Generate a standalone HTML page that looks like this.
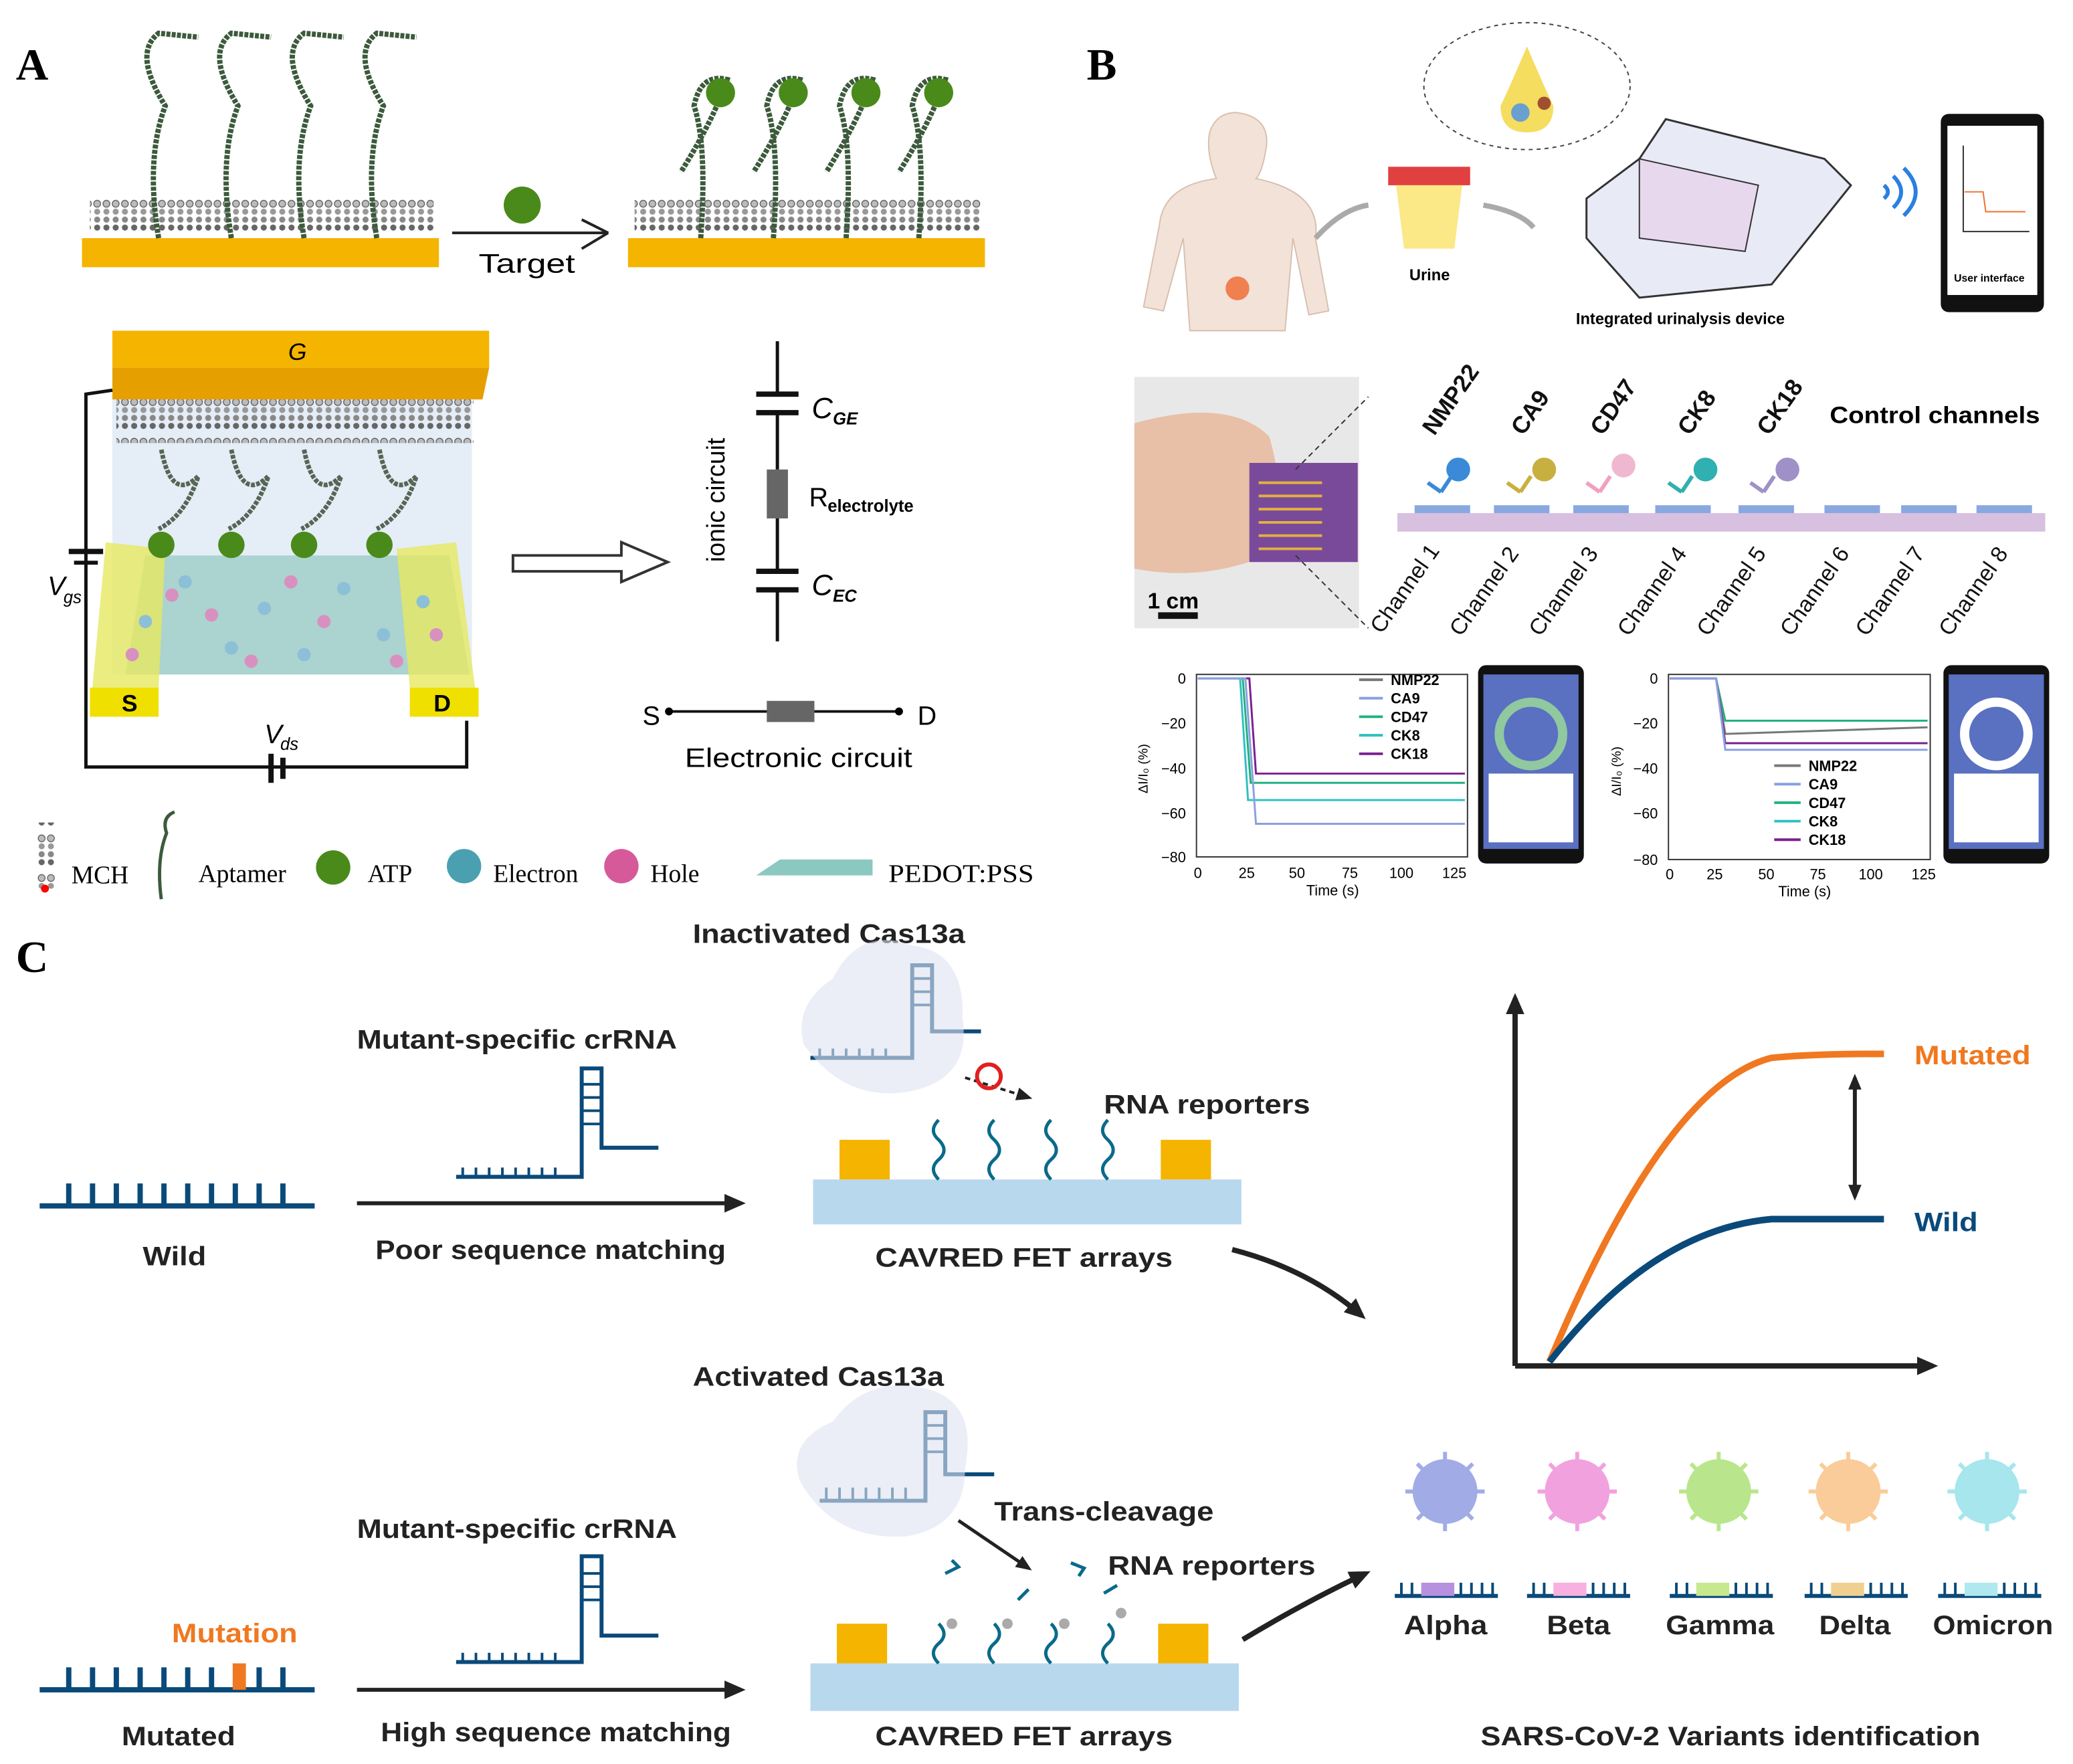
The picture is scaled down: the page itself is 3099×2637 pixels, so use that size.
<!DOCTYPE html>
<html><head><meta charset="utf-8"><style>
html,body{margin:0;padding:0;background:#fff}
svg{display:block}
text{font-family:"Liberation Sans",Arial,sans-serif}
.serif{font-family:"Liberation Serif",serif}
.b{font-weight:bold}
</style></head><body>
<svg width="3099" height="2637" viewBox="0 0 1568 1334" xmlns="http://www.w3.org/2000/svg">
<defs>
<marker id="ah" markerWidth="16" markerHeight="16" refX="12" refY="8" orient="auto" markerUnits="userSpaceOnUse"><path d="M0,1 L16,8 L0,15 z" fill="#222"/></marker>
<marker id="ahs" markerWidth="12" markerHeight="12" refX="9" refY="6" orient="auto" markerUnits="userSpaceOnUse"><path d="M0,1 L12,6 L0,11 z" fill="#222"/></marker>
<marker id="ahr" markerWidth="12" markerHeight="12" refX="3" refY="6" orient="auto" markerUnits="userSpaceOnUse"><path d="M12,1 L0,6 L12,11 z" fill="#222"/></marker>
<pattern id="mch" width="7" height="30" patternUnits="userSpaceOnUse"><circle cx="3.5" cy="4" r="2.6" fill="#bbb" stroke="#555" stroke-width="0.6"/><circle cx="3.5" cy="10" r="2.3" fill="#999"/><circle cx="3.5" cy="16" r="2.3" fill="#888"/><circle cx="3.5" cy="22" r="2.3" fill="#666"/></pattern>
<g id="virus"><g stroke-width="3"><path d="M0 -30 V30 M-30 0 H30 M-21 -21 L21 21 M-21 21 L21 -21"/></g><circle r="24"/></g>
</defs>
<rect width="1568" height="1334" fill="#fff"/>
<!-- Panel A -->
<text x="12" y="60" class="serif b" font-size="34">A</text>
<rect x="68" y="145" width="260" height="36" fill="url(#mch)"/>
<rect x="480" y="145" width="262" height="36" fill="url(#mch)"/>
<rect x="62" y="180" width="270" height="22" fill="#f5b400"/>
<rect x="475" y="180" width="270" height="22" fill="#f5b400"/>
<g stroke="#3c5a3c" stroke-width="4" fill="none" stroke-dasharray="3 1">
<path d="M120 180 Q110 120 125 80 Q100 40 120 25 L150 28"/>
<path d="M175 180 Q165 120 180 80 Q155 40 175 25 L205 28"/>
<path d="M230 180 Q220 120 235 80 Q210 40 230 25 L260 28"/>
<path d="M285 180 Q275 120 290 80 Q265 40 285 25 L315 28"/>
<path d="M530 180 Q535 110 525 80 Q530 55 550 60 Q540 90 515 130"/>
<path d="M585 180 Q590 110 580 80 Q585 55 605 60 Q595 90 570 130"/>
<path d="M640 180 Q645 110 635 80 Q640 55 660 60 Q650 90 625 130"/>
<path d="M695 180 Q700 110 690 80 Q695 55 715 60 Q705 90 680 130"/>
</g>
<g fill="#4a8a1a"><circle cx="545" cy="70" r="11"/><circle cx="600" cy="70" r="11"/><circle cx="655" cy="70" r="11"/><circle cx="710" cy="70" r="11"/><circle cx="395" cy="155" r="14"/></g>
<path d="M342 176 L460 176 L440 166 M460 176 L440 188" stroke="#222" stroke-width="2" fill="none"/>
<text x="362" y="206" font-size="20" textLength="73" lengthAdjust="spacingAndGlyphs">Target</text>
<!-- OECT -->
<rect x="85" y="290" width="272" height="220" fill="#dfe8f5" opacity="0.8"/>
<rect x="88" y="295" width="270" height="40" fill="url(#mch)"/>
<path d="M85 250 L370 250 L370 278 L85 278 z" fill="#f5b400"/>
<path d="M85 278 L370 278 L365 302 L85 302 z" fill="#e5a000"/>
<text x="218" y="272" font-size="18" font-style="italic">G</text>
<path d="M110 420 L340 420 L355 510 L95 510 z" fill="#9cccc4" opacity="0.8"/>
<path d="M80 410 L125 415 L120 520 L68 540 z" fill="#e6e860" opacity="0.8"/>
<path d="M300 415 L345 410 L362 540 L310 520 z" fill="#e6e860" opacity="0.8"/>
<rect x="68" y="520" width="52" height="22" fill="#f0e000"/><text x="92" y="538" font-size="18" class="b">S</text>
<rect x="310" y="520" width="52" height="22" fill="#f0e000"/><text x="328" y="538" font-size="18" class="b">D</text>
<g fill="#8cbfd8"><circle cx="140" cy="440" r="5"/><circle cx="200" cy="460" r="5"/><circle cx="260" cy="445" r="5"/><circle cx="175" cy="490" r="5"/><circle cx="290" cy="480" r="5"/><circle cx="110" cy="470" r="5"/><circle cx="230" cy="495" r="5"/><circle cx="320" cy="455" r="5"/></g>
<g fill="#d890c0"><circle cx="160" cy="465" r="5"/><circle cx="220" cy="440" r="5"/><circle cx="245" cy="470" r="5"/><circle cx="190" cy="500" r="5"/><circle cx="300" cy="500" r="5"/><circle cx="100" cy="495" r="5"/><circle cx="130" cy="450" r="5"/><circle cx="330" cy="480" r="5"/></g>
<g fill="#4a8a1a"><circle cx="122" cy="412" r="10"/><circle cx="175" cy="412" r="10"/><circle cx="230" cy="412" r="10"/><circle cx="287" cy="412" r="10"/></g>
<g stroke="#556655" stroke-width="3.5" fill="none" stroke-dasharray="3 1"><path d="M122 340 Q130 380 150 360 Q140 390 120 400"/><path d="M175 340 Q183 380 203 360 Q193 390 173 400"/><path d="M230 340 Q238 380 258 360 Q248 390 228 400"/><path d="M287 340 Q295 380 315 360 Q305 390 285 400"/></g>
<path d="M85 295 L65 298 L65 580 L353 580 L353 545" stroke="#111" stroke-width="2.5" fill="none"/>
<rect x="52" y="415" width="26" height="4" fill="#111"/><rect x="56" y="424" width="18" height="3" fill="#111"/>
<text x="36" y="450" font-size="20" font-style="italic">V</text><text x="48" y="456" font-size="13" font-style="italic">gs</text>
<rect x="203" y="570" width="4" height="22" fill="#111"/><rect x="212" y="573" width="4" height="16" fill="#111"/>
<text x="200" y="562" font-size="20" font-style="italic">V</text><text x="212" y="567" font-size="13" font-style="italic">ds</text>
<path d="M388 420 L470 420 L470 410 L505 425 L470 440 L470 432 L388 432 z" fill="#fff" stroke="#333" stroke-width="2"/>
<!-- circuit -->
<path d="M588 258 L588 298 M588 312 L588 355 M588 392 L588 432 M588 446 L588 485" stroke="#111" stroke-width="2.5"/>
<rect x="572" y="296" width="32" height="4" fill="#111"/><rect x="572" y="310" width="32" height="4" fill="#111"/>
<rect x="580" y="355" width="16" height="37" fill="#666"/>
<rect x="572" y="430" width="32" height="4" fill="#111"/><rect x="572" y="444" width="32" height="4" fill="#111"/>
<text x="614" y="316" font-size="22" font-style="italic">C</text><text x="630" y="321" font-size="13" font-style="italic" class="b">GE</text>
<text x="612" y="383" font-size="20">R</text><text x="626" y="387" font-size="13" class="b">electrolyte</text>
<text x="614" y="450" font-size="22" font-style="italic">C</text><text x="630" y="455" font-size="13" font-style="italic" class="b">EC</text>
<text transform="translate(548 425) rotate(-90)" font-size="19">ionic circuit</text>
<path d="M506 538 L680 538" stroke="#111" stroke-width="2"/><circle cx="506" cy="538" r="3"/><circle cx="680" cy="538" r="3"/>
<rect x="580" y="530" width="36" height="16" fill="#666"/>
<text x="486" y="548" font-size="20">S</text><text x="694" y="548" font-size="20">D</text>
<text x="518" y="580" font-size="20" textLength="172" lengthAdjust="spacingAndGlyphs">Electronic circuit</text>
<!-- legend -->
<rect x="28" y="622" width="14" height="50" fill="url(#mch)"/><circle cx="34" cy="672" r="3" fill="red"/>
<text x="54" y="668" class="serif" font-size="19">MCH</text>
<path d="M122 680 Q118 650 126 630 Q122 618 132 614" stroke="#3c5a3c" stroke-width="2.5" fill="none"/>
<text x="150" y="667" class="serif" font-size="19">Aptamer</text>
<circle cx="252" cy="656" r="13" fill="#4a8a1a"/><text x="278" y="667" class="serif" font-size="19">ATP</text>
<circle cx="351" cy="655" r="13" fill="#4aa0b0"/><text x="373" y="667" class="serif" font-size="19">Electron</text>
<circle cx="470" cy="655" r="13" fill="#d65a9a"/><text x="492" y="667" class="serif" font-size="19">Hole</text>
<path d="M572 662 L590 650 L660 650 L660 662 z" fill="#8ac8c0"/>
<text x="672" y="667" class="serif" font-size="19" textLength="110" lengthAdjust="spacingAndGlyphs">PEDOT:PSS</text>
<!-- Panel B -->
<text x="822" y="60" class="serif b" font-size="34">B</text>
<path d="M935 85 Q960 88 958 110 Q955 130 950 135 Q1000 145 995 180 L1005 235 L990 238 L978 180 L972 250 L900 250 L895 180 L880 235 L865 232 L877 170 Q880 140 920 135 Q912 115 915 100 Q920 85 935 85z" fill="#f3e2d8" stroke="#d8c0b0"/>
<circle cx="936" cy="218" r="9" fill="#f08050"/>
<path d="M995 180 Q1015 158 1035 155" stroke="#aaa" stroke-width="4" fill="none"/>
<path d="M1122 155 Q1150 160 1160 172" stroke="#aaa" stroke-width="4" fill="none"/>
<rect x="1050" y="126" width="62" height="14" fill="#e04040"/>
<path d="M1056 140 L1106 140 L1100 188 L1062 188z" fill="#fbe886"/>
<text x="1066" y="212" font-size="12" class="b">Urine</text>
<ellipse cx="1155" cy="65" rx="78" ry="48" fill="#fff" stroke="#444" stroke-dasharray="3 3"/>
<path d="M1155 35 Q1170 70 1175 80 Q1175 100 1155 100 Q1135 100 1135 80 Q1140 70 1155 35z" fill="#f5dd60"/>
<circle cx="1150" cy="85" r="7" fill="#6aa0d0"/><circle cx="1168" cy="78" r="5" fill="#a05030"/>
<path d="M1200 150 L1240 120 L1260 90 L1380 120 L1400 140 L1340 215 L1240 225 L1200 180z" fill="#e8eaf5" stroke="#333" stroke-width="1.5"/>
<path d="M1240 120 L1330 140 L1320 190 L1240 180z" fill="#e8d8ee" stroke="#333"/>
<text x="1192" y="245" font-size="12" class="b">Integrated urinalysis device</text>
<path d="M1425 150 q6 -5 0 -10 M1432 157 q12 -12 0 -24 M1440 163 q18 -18 0 -36" stroke="#2a80e0" stroke-width="3" fill="none"/>
<rect x="1468" y="86" width="78" height="150" rx="6" fill="#111"/><rect x="1473" y="95" width="68" height="128" fill="#fff"/>
<path d="M1485 110 L1485 175 L1535 175" stroke="#333" fill="none"/><path d="M1486 145 L1500 145 L1502 160 L1532 160" stroke="#f07030" fill="none"/>
<text x="1478" y="213" font-size="8" class="b">User interface</text>
<!-- chip photo -->
<rect x="858" y="285" width="170" height="190" fill="#e8e8e8"/>
<path d="M858 320 Q930 300 960 330 Q975 380 958 420 Q910 440 858 430z" fill="#e8c0a8"/>
<rect x="945" y="350" width="82" height="75" fill="#7a4a9a"/>
<g stroke="#e0b040" stroke-width="2"><path d="M952 365 L1000 365 M952 375 L1000 375 M952 385 L1000 385 M952 395 L1000 395 M952 405 L1000 405 M952 415 L1000 415"/></g>
<rect x="876" y="463" width="30" height="5" fill="#111"/><text x="868" y="460" font-size="17" class="b">1 cm</text>
<path d="M980 355 L1035 300 M980 420 L1035 475" stroke="#333" stroke-dasharray="4 3"/>
<rect x="1057" y="388" width="490" height="14" fill="#d8c0e0"/>
<g fill="#8aa8e0"><rect x="1070" y="382" width="42" height="6"/><rect x="1130" y="382" width="42" height="6"/><rect x="1190" y="382" width="42" height="6"/><rect x="1252" y="382" width="42" height="6"/><rect x="1315" y="382" width="42" height="6"/><rect x="1380" y="382" width="42" height="6"/><rect x="1438" y="382" width="42" height="6"/><rect x="1495" y="382" width="42" height="6"/></g>
<g font-size="18" class="b" fill="#111">
<text transform="translate(1085 330) rotate(-55)">NMP22</text><text transform="translate(1152 330) rotate(-55)">CA9</text><text transform="translate(1212 330) rotate(-55)">CD47</text><text transform="translate(1278 330) rotate(-55)">CK8</text><text transform="translate(1338 330) rotate(-55)">CK18</text>
</g>
<text x="1384" y="320" font-size="18" class="b" textLength="159" lengthAdjust="spacingAndGlyphs">Control channels</text>
<path d="M1090 372 L1098 360 M1090 372 L1080 365" stroke="#3a8ad8" stroke-width="3"/><circle cx="1103" cy="355" r="9" fill="#3a8ad8"/>
<path d="M1150 372 L1158 360 M1150 372 L1140 365" stroke="#c8b040" stroke-width="3"/><circle cx="1168" cy="355" r="9" fill="#c8b040"/>
<path d="M1210 372 L1218 360 M1210 372 L1200 365" stroke="#f0a0c0" stroke-width="3"/><circle cx="1228" cy="352" r="9" fill="#f0b8d0"/>
<path d="M1272 372 L1280 360 M1272 372 L1262 365" stroke="#30b0b0" stroke-width="3"/><circle cx="1290" cy="355" r="9" fill="#30b0b0"/>
<path d="M1334 372 L1342 360 M1334 372 L1324 365" stroke="#a090c8" stroke-width="3"/><circle cx="1352" cy="355" r="9" fill="#a090c8"/>
<g font-size="17" fill="#111">
<text transform="translate(1045 480) rotate(-55)">Channel 1</text><text transform="translate(1105 482) rotate(-55)">Channel 2</text><text transform="translate(1165 482) rotate(-55)">Channel 3</text><text transform="translate(1232 482) rotate(-55)">Channel 4</text><text transform="translate(1292 482) rotate(-55)">Channel 5</text><text transform="translate(1355 482) rotate(-55)">Channel 6</text><text transform="translate(1412 482) rotate(-55)">Channel 7</text><text transform="translate(1475 482) rotate(-55)">Channel 8</text>
</g>
<!-- graph 1 -->
<rect x="905" y="510" width="205" height="138" fill="none" stroke="#333"/>
<g font-size="11" text-anchor="end"><text x="897" y="517">0</text><text x="897" y="551">−20</text><text x="897" y="585">−40</text><text x="897" y="619">−60</text><text x="897" y="652">−80</text></g>
<g font-size="11" text-anchor="middle"><text x="906" y="664">0</text><text x="943" y="664">25</text><text x="981" y="664">50</text><text x="1021" y="664">75</text><text x="1060" y="664">100</text><text x="1100" y="664">125</text></g>
<text x="1008" y="677" font-size="11" text-anchor="middle">Time (s)</text>
<text transform="translate(868 600) rotate(-90)" font-size="10">ΔI/I₀ (%)</text>
<path d="M906 513 L945 513 L950 585 L1108 585" stroke="#7a2090" fill="none" stroke-width="1.5"/>
<path d="M906 513 L940 513 L946 592 L1108 592" stroke="#20b080" fill="none" stroke-width="1.5"/>
<path d="M906 513 L938 513 L944 605 L1108 605" stroke="#30c0c0" fill="none" stroke-width="1.5"/>
<path d="M906 513 L942 513 L950 623 L1108 623" stroke="#8aa0e0" fill="none" stroke-width="1.5"/>
<g font-size="11" class="b"><text x="1052" y="518">NMP22</text><text x="1052" y="532">CA9</text><text x="1052" y="546">CD47</text><text x="1052" y="560">CK8</text><text x="1052" y="574">CK18</text></g>
<g stroke-width="2"><path d="M1028 514 L1046 514" stroke="#777"/><path d="M1028 528 L1046 528" stroke="#8aa0e0"/><path d="M1028 542 L1046 542" stroke="#20b080"/><path d="M1028 556 L1046 556" stroke="#30c0c0"/><path d="M1028 570 L1046 570" stroke="#7a2090"/></g>
<rect x="1118" y="503" width="80" height="150" rx="6" fill="#111"/><rect x="1122" y="510" width="72" height="132" fill="#5a70c0"/><circle cx="1158" cy="555" r="24" fill="none" stroke="#90c8a0" stroke-width="7"/><rect x="1126" y="585" width="64" height="52" fill="#fff"/>
<!-- graph 2 -->
<rect x="1262" y="510" width="198" height="140" fill="none" stroke="#333"/>
<g font-size="11" text-anchor="end"><text x="1254" y="517">0</text><text x="1254" y="551">−20</text><text x="1254" y="585">−40</text><text x="1254" y="619">−60</text><text x="1254" y="654">−80</text></g>
<g font-size="11" text-anchor="middle"><text x="1263" y="665">0</text><text x="1297" y="665">25</text><text x="1336" y="665">50</text><text x="1375" y="665">75</text><text x="1415" y="665">100</text><text x="1455" y="665">125</text></g>
<text x="1365" y="678" font-size="11" text-anchor="middle">Time (s)</text>
<text transform="translate(1226 602) rotate(-90)" font-size="10">ΔI/I₀ (%)</text>
<path d="M1263 513 L1298 513 L1305 545 L1458 545" stroke="#20b080" fill="none" stroke-width="1.5"/>
<path d="M1263 513 L1298 513 L1305 555 L1458 550" stroke="#777" fill="none" stroke-width="1.5"/>
<path d="M1263 513 L1298 513 L1305 562 L1458 562" stroke="#7a2090" fill="none" stroke-width="1.5"/>
<path d="M1263 513 L1298 513 L1305 567 L1458 567" stroke="#8aa0e0" fill="none" stroke-width="1.5"/>
<g font-size="11" class="b"><text x="1368" y="583">NMP22</text><text x="1368" y="597">CA9</text><text x="1368" y="611">CD47</text><text x="1368" y="625">CK8</text><text x="1368" y="639">CK18</text></g>
<g stroke-width="2"><path d="M1342 579 L1362 579" stroke="#777"/><path d="M1342 593 L1362 593" stroke="#8aa0e0"/><path d="M1342 607 L1362 607" stroke="#20b080"/><path d="M1342 621 L1362 621" stroke="#30c0c0"/><path d="M1342 635 L1362 635" stroke="#7a2090"/></g>
<rect x="1470" y="503" width="80" height="150" rx="6" fill="#111"/><rect x="1474" y="510" width="72" height="132" fill="#5a70c0"/><circle cx="1510" cy="555" r="24" fill="none" stroke="#fff" stroke-width="7"/><rect x="1478" y="585" width="64" height="52" fill="#fff"/>
<!-- Panel C -->
<text x="12" y="735" class="serif b" font-size="34">C</text>
<g font-size="20" class="b" fill="#222" lengthAdjust="spacingAndGlyphs">
<text x="524" y="713" textLength="206" lengthAdjust="spacingAndGlyphs">Inactivated Cas13a</text>
<text x="270" y="793" textLength="242" lengthAdjust="spacingAndGlyphs">Mutant-specific crRNA</text>
<text x="835" y="842" textLength="156" lengthAdjust="spacingAndGlyphs">RNA reporters</text>
<text x="108" y="957" textLength="48" lengthAdjust="spacingAndGlyphs">Wild</text>
<text x="284" y="952" textLength="265" lengthAdjust="spacingAndGlyphs">Poor sequence matching</text>
<text x="662" y="958" textLength="225" lengthAdjust="spacingAndGlyphs">CAVRED  FET arrays</text>
<text x="524" y="1048" textLength="190" lengthAdjust="spacingAndGlyphs">Activated Cas13a</text>
<text x="752" y="1150" textLength="166" lengthAdjust="spacingAndGlyphs">Trans-cleavage</text>
<text x="270" y="1163" textLength="242" lengthAdjust="spacingAndGlyphs">Mutant-specific crRNA</text>
<text x="838" y="1191" textLength="157" lengthAdjust="spacingAndGlyphs">RNA reporters</text>
<text x="130" y="1242" fill="#f07820" textLength="95" lengthAdjust="spacingAndGlyphs">Mutation</text>
<text x="92" y="1320" textLength="86" lengthAdjust="spacingAndGlyphs">Mutated</text>
<text x="288" y="1317" textLength="265" lengthAdjust="spacingAndGlyphs">High sequence matching</text>
<text x="662" y="1320" textLength="225" lengthAdjust="spacingAndGlyphs">CAVRED  FET arrays</text>
<text x="1120" y="1320" textLength="378" lengthAdjust="spacingAndGlyphs">SARS-CoV-2 Variants identification</text>
<text x="1062" y="1236" textLength="63" lengthAdjust="spacingAndGlyphs">Alpha</text><text x="1170" y="1236" textLength="48" lengthAdjust="spacingAndGlyphs">Beta</text><text x="1260" y="1236" textLength="82" lengthAdjust="spacingAndGlyphs">Gamma</text><text x="1376" y="1236" textLength="54" lengthAdjust="spacingAndGlyphs">Delta</text><text x="1462" y="1236" textLength="91" lengthAdjust="spacingAndGlyphs">Omicron</text>
<text x="1448" y="805" fill="#f07820" textLength="88" lengthAdjust="spacingAndGlyphs">Mutated</text>
<text x="1448" y="931" fill="#0a4a7a" textLength="48" lengthAdjust="spacingAndGlyphs">Wild</text>
</g>
<!-- wild strand -->
<path d="M30 912 L238 912" stroke="#0a4a7a" stroke-width="4"/>
<g stroke="#0a4a7a" stroke-width="4"><path d="M52 912 V895 M70 912 V895 M88 912 V895 M106 912 V895 M124 912 V895 M142 912 V895 M160 912 V895 M178 912 V895 M196 912 V895 M214 912 V895"/></g>
<path d="M30 1278 L238 1278" stroke="#0a4a7a" stroke-width="4"/>
<g stroke="#0a4a7a" stroke-width="4"><path d="M52 1278 V1261 M70 1278 V1261 M88 1278 V1261 M106 1278 V1261 M124 1278 V1261 M142 1278 V1261 M160 1278 V1261 M196 1278 V1261 M214 1278 V1261"/></g>
<rect x="176" y="1258" width="10" height="20" fill="#f07820"/>
<!-- arrows -->
<path d="M270 910 L560 910" stroke="#222" stroke-width="3" marker-end="url(#ah)"/>
<path d="M270 1278 L560 1278" stroke="#222" stroke-width="3" marker-end="url(#ah)"/>
<!-- crRNA -->
<g stroke="#0a4a7a" stroke-width="3" fill="none">
<path d="M345 890 L440 890 L440 808 L455 808 L455 868 L498 868"/>
<path d="M345 1257 L440 1257 L440 1177 L455 1177 L455 1237 L498 1237"/>
<path d="M613 800 L690 800 L690 730 L705 730 L705 780 L742 780"/>
<path d="M620 1135 L700 1135 L700 1068 L715 1068 L715 1115 L752 1115"/>
</g>
<g stroke="#0a4a7a" stroke-width="2"><path d="M440 820 H455 M440 830 H455 M440 840 H455 M440 850 H455 M690 740 H705 M690 750 H705 M690 760 H705 M700 1078 H715 M700 1088 H715 M700 1098 H715 M440 1190 H455 M440 1200 H455 M440 1210 H455"/></g>
<g stroke="#0a4a7a" stroke-width="2"><path d="M350 890 V883 M360 890 V883 M370 890 V883 M380 890 V883 M390 890 V883 M400 890 V883 M410 890 V883 M420 890 V883 M350 1257 V1250 M360 1257 V1250 M370 1257 V1250 M380 1257 V1250 M390 1257 V1250 M400 1257 V1250 M410 1257 V1250 M420 1257 V1250 M620 800 V793 M630 800 V793 M640 800 V793 M650 800 V793 M660 800 V793 M670 800 V793 M625 1135 V1125 M635 1135 V1125 M645 1135 V1125 M655 1135 V1125 M665 1135 V1125 M675 1135 V1125 M685 1135 V1125"/></g>
<path d="M608 790 Q600 760 630 740 Q650 700 690 715 Q730 720 728 770 Q735 815 690 825 Q640 835 608 790z" fill="#dde3f0" opacity="0.6"/>
<path d="M605 1120 Q595 1090 630 1075 Q655 1040 700 1050 Q740 1060 730 1110 Q730 1155 685 1162 Q630 1165 605 1120z" fill="#dde3f0" opacity="0.6"/>
<!-- FET arrays -->
<rect x="615" y="892" width="324" height="34" fill="#b8d8ee"/>
<rect x="635" y="862" width="38" height="30" fill="#f5b400"/><rect x="878" y="862" width="38" height="30" fill="#f5b400"/>
<rect x="613" y="1258" width="324" height="36" fill="#b8d8ee"/>
<rect x="633" y="1228" width="38" height="30" fill="#f5b400"/><rect x="876" y="1228" width="38" height="30" fill="#f5b400"/>
<g stroke="#0a6a8a" stroke-width="2.5" fill="none">
<path d="M710 892 q-8 -8 0 -15 q8 -7 0 -15 q-8 -7 0 -15"/><path d="M752 892 q-8 -8 0 -15 q8 -7 0 -15 q-8 -7 0 -15"/><path d="M795 892 q-8 -8 0 -15 q8 -7 0 -15 q-8 -7 0 -15"/><path d="M838 892 q-8 -8 0 -15 q8 -7 0 -15 q-8 -7 0 -15"/>
<path d="M710 1258 q-8 -8 0 -15 q8 -7 0 -15"/><path d="M752 1258 q-8 -8 0 -15 q8 -7 0 -15"/><path d="M795 1258 q-8 -8 0 -15 q8 -7 0 -15"/><path d="M838 1258 q-8 -8 0 -15 q8 -7 0 -15"/>
<path d="M715 1190 l10 -5 l-5 -5"/><path d="M770 1210 l8 -8"/><path d="M810 1182 l10 4 l-4 6"/><path d="M835 1205 l10 -6"/>
</g>
<g fill="#aaa"><circle cx="720" cy="1228" r="4"/><circle cx="762" cy="1228" r="4"/><circle cx="805" cy="1228" r="4"/><circle cx="848" cy="1220" r="4"/></g>
<path d="M730 815 L778 830" stroke="#222" stroke-width="2" stroke-dasharray="4 3" marker-end="url(#ahs)"/>
<circle cx="748" cy="814" r="9" fill="none" stroke="#e02020" stroke-width="3"/>
<path d="M725 1150 L778 1186" stroke="#222" stroke-width="2.5" marker-end="url(#ahs)"/>
<path d="M932 945 Q990 960 1030 995" stroke="#222" stroke-width="4" fill="none" marker-end="url(#ah)"/>
<path d="M940 1240 Q990 1210 1033 1190" stroke="#222" stroke-width="4" fill="none" marker-end="url(#ah)"/>
<!-- graph -->
<path d="M1146 1033 L1146 755" stroke="#222" stroke-width="4" marker-end="url(#ah)"/>
<path d="M1146 1033 L1462 1033" stroke="#222" stroke-width="4" marker-end="url(#ah)"/>
<path d="M1172 1030 Q1260 820 1340 800 Q1370 797 1425 797" stroke="#f07820" stroke-width="5" fill="none"/>
<path d="M1172 1030 Q1250 930 1340 922 L1425 922" stroke="#0a4a7a" stroke-width="5" fill="none"/>
<path d="M1403 815 L1403 905" stroke="#222" stroke-width="3" marker-start="url(#ahr)" marker-end="url(#ahs)"/>
<!-- viruses -->
<use href="#virus" x="1093" y="1128" fill="#8a98e0" stroke="#8a98e0" opacity="0.8"/>
<use href="#virus" x="1193" y="1128" fill="#f08ad8" stroke="#f08ad8" opacity="0.8"/>
<use href="#virus" x="1300" y="1128" fill="#a8e070" stroke="#a8e070" opacity="0.8"/>
<use href="#virus" x="1398" y="1128" fill="#f8c080" stroke="#f8c080" opacity="0.8"/>
<use href="#virus" x="1503" y="1128" fill="#90e0e8" stroke="#90e0e8" opacity="0.8"/>
<g stroke-width="3"><path d="M1055 1207 H1133" stroke="#0a4a7a"/><path d="M1155 1207 H1233" stroke="#0a4a7a"/><path d="M1263 1207 H1341" stroke="#0a4a7a"/><path d="M1365 1207 H1443" stroke="#0a4a7a"/><path d="M1466 1207 H1544" stroke="#0a4a7a"/></g>
<g stroke="#0a4a7a" stroke-width="2"><path d="M1060 1207 V1197 M1068 1207 V1197 M1105 1207 V1197 M1113 1207 V1197 M1121 1207 V1197 M1129 1207 V1197 M1160 1207 V1197 M1168 1207 V1197 M1205 1207 V1197 M1213 1207 V1197 M1221 1207 V1197 M1229 1207 V1197 M1268 1207 V1197 M1276 1207 V1197 M1313 1207 V1197 M1321 1207 V1197 M1329 1207 V1197 M1337 1207 V1197 M1370 1207 V1197 M1378 1207 V1197 M1415 1207 V1197 M1423 1207 V1197 M1431 1207 V1197 M1439 1207 V1197 M1471 1207 V1197 M1479 1207 V1197 M1516 1207 V1197 M1524 1207 V1197 M1532 1207 V1197 M1540 1207 V1197"/></g>
<rect x="1075" y="1197" width="25" height="10" fill="#b890e0"/><rect x="1175" y="1197" width="25" height="10" fill="#f8b0e0"/><rect x="1283" y="1197" width="25" height="10" fill="#c8e890"/><rect x="1385" y="1197" width="25" height="10" fill="#f0d090"/><rect x="1486" y="1197" width="25" height="10" fill="#b0e8f0"/>
</svg>
</body></html>
